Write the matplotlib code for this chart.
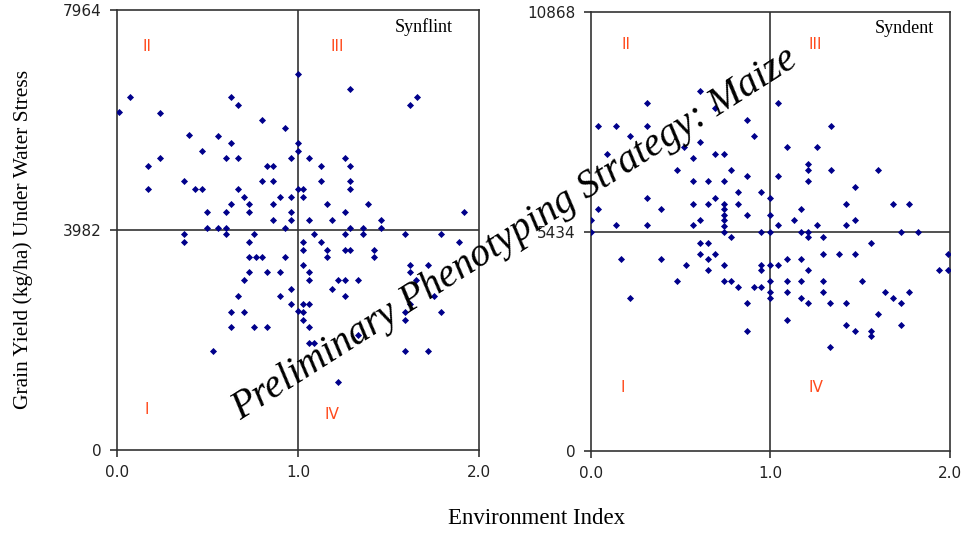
#!/usr/bin/env python3
import matplotlib
matplotlib.use("Agg")
import matplotlib.pyplot as plt

# Synflint: environment index vs grain yield (kg/ha)
flint_x = [0.01, 0.07, 0.24, 0.17, 0.24, 0.17, 0.40, 0.56, 0.63, 0.67, 0.63, 0.47,
           0.60, 0.67, 0.80, 0.93, 1.00, 1.00, 1.00, 0.96, 0.83, 0.86, 0.37, 0.43,
           0.47, 0.80, 0.86, 0.67, 0.70, 0.73, 0.63, 0.50, 0.60, 0.73, 0.86, 0.90,
           0.96, 0.96, 0.86, 0.96, 0.50, 0.56, 0.60, 0.93, 1.00, 1.03, 1.03, 1.06,
           1.13, 1.13, 1.26, 1.29, 1.29, 1.29, 1.29, 1.62, 1.66, 1.16, 1.26, 1.39,
           1.06, 1.19, 1.46, 1.29, 1.36, 1.46, 1.92,
           0.37, 0.37, 0.60, 0.76, 0.73, 0.73, 0.77, 0.80, 0.93, 0.73, 0.83, 0.90,
           0.70, 0.67, 0.63, 0.70, 0.63, 0.76, 0.83, 0.53, 0.96, 0.90, 0.96, 1.00,
           1.03, 1.06, 1.03, 1.03, 1.06, 1.06, 1.09, 1.22, 1.03, 1.03, 1.03, 1.06,
           1.06, 1.09, 1.13, 1.16, 1.16, 1.26, 1.26, 1.29, 1.36, 1.42, 1.42, 1.19,
           1.22, 1.26, 1.33, 1.26, 1.33, 1.59, 1.79, 1.89, 1.62, 1.72, 1.62, 1.65,
           1.75, 1.62, 1.59, 1.79, 1.59, 1.59, 1.72]
flint_y = [6112, 6395, 6106, 5146, 5279, 4718, 5701, 5689, 6395, 6250, 5550, 5412,
           5279, 5279, 5967, 5828, 6812, 5557, 5418, 5279, 5146, 5146, 4863, 4718,
           4718, 4863, 4863, 4718, 4579, 4447, 4447, 4302, 4302, 4302, 4447, 4579,
           4579, 4302, 4163, 4163, 4024, 4024, 4024, 4024, 4718, 4718, 4579, 5279,
           5146, 4863, 5279, 5146, 4863, 4718, 6534, 6250, 6395, 4447, 4302, 4447,
           4163, 4163, 4163, 4024, 4024, 4024, 4302,
           3915, 3769, 3915, 3915, 3769, 3488, 3488, 3488, 3488, 3214, 3214, 3214,
           3073, 2781, 2500, 2500, 2226, 2226, 2226, 1799, 2921, 2781, 2647, 2512,
           2647, 2647, 2500, 2360, 2226, 1939, 1939, 1232, 3769, 3628, 3354, 3214,
           3073, 3915, 3769, 3628, 3488, 3915, 3628, 3628, 3915, 3628, 3488, 2921,
           3073, 3073, 3073, 2781, 2085, 3915, 3915, 3769, 3354, 3354, 3214, 3073,
           2781, 2647, 2500, 2500, 2360, 1799, 1799]

# Syndent: environment index vs grain yield (kg/ha)
dent_x = [0.61, 0.31, 0.69, 1.04, 0.04, 0.14, 0.31, 0.87, 0.22, 0.91, 1.34, 0.09,
          0.52, 0.61, 0.69, 0.74, 0.57, 1.09, 1.26, 0.48, 0.78, 1.21, 1.21, 1.34,
          1.60, 0.57, 0.65, 0.74, 0.87, 1.04, 1.21, 1.47, 0.31, 0.82, 0.95, 0.69,
          1.00, 0.57, 0.65, 0.74, 0.82, 0.04, 0.39, 0.74, 0.87, 1.00, 0.74, 1.17,
          1.42, 1.68, 1.77, 0.00, 0.14, 0.31, 0.57, 0.61, 0.74, 0.74, 1.13, 1.04,
          1.26, 1.42, 1.47, 0.00, 0.74, 0.95, 1.00, 1.17, 1.21, 1.73, 1.82,
          0.78, 0.61, 0.65, 0.17, 0.39, 0.61, 0.69, 0.65, 0.53, 0.74, 0.65, 0.48,
          0.74, 0.78, 0.82, 0.91, 0.95, 0.22, 0.87, 0.87, 0.95, 0.95, 1.00, 1.04,
          1.00, 1.00, 1.00, 1.09, 1.17, 1.21, 1.09, 1.17, 1.09, 1.17, 1.21, 1.09,
          1.29, 1.29, 1.38, 1.47, 1.56, 1.29, 1.29, 1.33, 1.42, 1.51, 1.60, 1.42,
          1.47, 1.56, 1.56, 1.33, 1.64, 1.68, 1.73, 1.77, 1.73, 1.99, 1.94, 1.99,
          1.21]
dent_y = [8901, 8626, 8484, 8626, 8059, 8059, 8059, 8201, 7793, 7793, 8059, 7359,
          7518, 7651, 7359, 7359, 7251, 7518, 7518, 6959, 6959, 7101, 6959, 6959,
          6959, 6684, 6684, 6684, 6817, 6817, 6684, 6542, 6267, 6401, 6401, 6267,
          6267, 6126, 6126, 6126, 6126, 5984, 5984, 5984, 5851, 5851, 5851, 5984,
          6126, 6126, 6126, 5709, 5584, 5584, 5584, 5709, 5709, 5567, 5709, 5584,
          5584, 5584, 5709, 5434, 5434, 5434, 5434, 5434, 5434, 5434, 5434,
          5295, 5156, 5156, 4747, 4747, 4886, 4886, 4747, 4616, 4616, 4477, 4207,
          4207, 4207, 4067, 4067, 4067, 3797, 3658, 2979, 4616, 4477, 4616, 4616,
          4207, 3928, 3797, 4747, 4747, 4477, 4207, 4207, 3928, 3797, 3658, 3249,
          5295, 4886, 4886, 4886, 5156, 4207, 3928, 3658, 3658, 4207, 3388, 3110,
          2979, 2979, 2840, 2570, 3928, 3797, 3658, 3928, 3110, 4886, 4477, 4477,
          5295]

quadrants = ["II", "III", "I", "IV"]
quad_red = "#ff4a1c"

# name, x, y, ymax, axes box, title x, quadrant label spots (axes fraction)
panels = [
    ("Synflint", flint_x, flint_y, 7964, [0.1212, 0.1557, 0.375, 0.8255], 0.928,
     [(0.083, 0.918), (0.608, 0.918), (0.083, 0.091), (0.594, 0.08)]),
    ("Syndent", dent_x, dent_y, 10868, [0.6124, 0.1538, 0.372, 0.8236], 0.955,
     [(0.097, 0.925), (0.624, 0.925), (0.089, 0.144), (0.627, 0.144)]),
]


def plot_panels():
    fig = plt.figure(figsize=(9.65, 5.33), dpi=100)
    for name, xs, ys, ymax, box, tx, spots in panels:
        ax = fig.add_axes(box)
        ax.scatter(xs, ys, s=13, marker="D", color="#00008b", linewidths=0, zorder=3)
        mid = ymax / 2
        ax.axvline(1.0, color="#333333", lw=1.2, zorder=2)
        ax.axhline(mid, color="#333333", lw=1.2, zorder=2)
        ax.set_xlim(0, 2)
        ax.set_ylim(0, ymax)
        ax.set_xticks([0, 1, 2])
        ax.set_xticklabels(["0.0", "1.0", "2.0"])
        ax.set_yticks([0, mid, ymax])
        ax.set_yticklabels(["0", "%d" % mid, "%d" % ymax])
        ax.tick_params(direction="out", length=5, width=1.2, labelsize=11, pad=6,
                       colors="#333333", labelcolor="#222222")
        for sp in ax.spines.values():
            sp.set_color("#333333")
            sp.set_linewidth(1.2)
        ax.text(tx, 0.962, name, transform=ax.transAxes, ha="right", va="center",
                family="Liberation Serif", fontsize=13)
        for lab, (qx, qy) in zip(quadrants, spots):
            ax.text(qx, qy, lab, transform=ax.transAxes, ha="center", va="center",
                    color=quad_red, fontsize=11)

    fig.text(0.024, 0.55, "Grain Yield (kg/ha) Under Water Stress", rotation=90,
             ha="center", va="center", family="Liberation Serif", fontsize=15.5)
    fig.text(0.556, 0.027, "Environment Index", ha="center", va="center",
             family="Liberation Serif", fontsize=16.5)
    fig.text(0.534, 0.56, "Preliminary Phenotyping Strategy: Maize", rotation=32.5,
             ha="center", va="center", family="Liberation Serif", style="italic",
             fontsize=28.5, zorder=10)
    fig.savefig("out.png", dpi=100)


if __name__ == '__main__':
    plot_panels()
    print("DONE")
